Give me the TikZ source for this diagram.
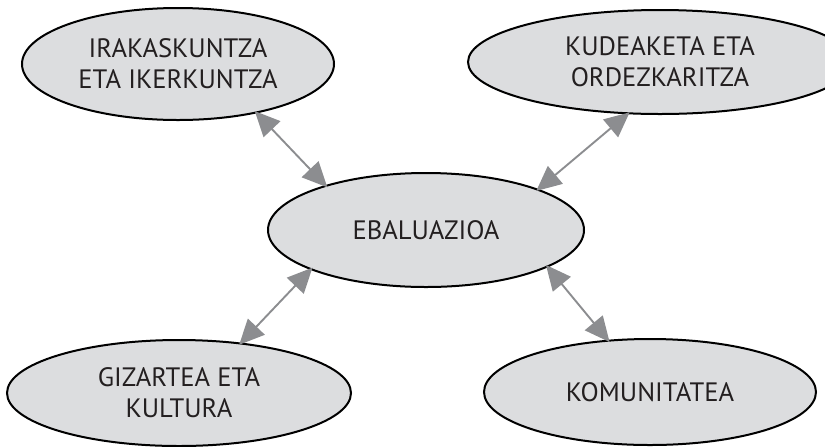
\documentclass[tikz,border=0pt]{standalone}
\usepackage{fontspec}
\setmainfont{PT Sans}
\usetikzlibrary{shapes.geometric,arrows.meta}
\definecolor{blobgray}{HTML}{DCDDDF}
\definecolor{arrgray}{HTML}{8C8D90}
\definecolor{txtgray}{HTML}{231F20}
\begin{document}
\begin{tikzpicture}[x=.5pt,y=-.5pt,
  blob/.style={ellipse,draw=black,line width=1pt,fill=blobgray,inner sep=0pt,
    align=center,text=txtgray,font=\fontsize{13.3}{15.5}\selectfont},
  link/.style={{Triangle[length=12.5pt,width=11.5pt]}-{Triangle[length=12.5pt,width=11.5pt]},
    draw=arrgray,line width=.95pt,shorten >=-1.5pt,shorten <=-1.5pt}]
\useasboundingbox (0,0) rectangle (825,446);
\node[blob,minimum width=156pt,minimum height=56pt] (irak) at (178,64) {IRAKASKUNTZA\\ETA IKERKUNTZA};
\node[blob,minimum width=192pt,minimum height=52pt] (kude) at (660,62) {KUDEAKETA ETA\\ORDEZKARITZA};
\node[blob,minimum width=158pt,minimum height=57pt] (ebal) at (426,230) {EBALUAZIOA};
\node[blob,minimum width=172pt,minimum height=53pt] (giza) at (179,393) {GIZARTEA ETA\\KULTURA};
\node[blob,minimum width=166pt,minimum height=53pt] (komu) at (650,392) {\raisebox{-3pt}{KOMUNITATEA}};
\draw[link] (irak.-32.5) -- (ebal.156.9);
\draw[link] (kude.-122) -- (ebal.20.3);
\draw[link] (giza.39.1) -- (ebal.199.3);
\draw[link] (komu.129.2) -- (ebal.-17.4);
\end{tikzpicture}
\end{document}
